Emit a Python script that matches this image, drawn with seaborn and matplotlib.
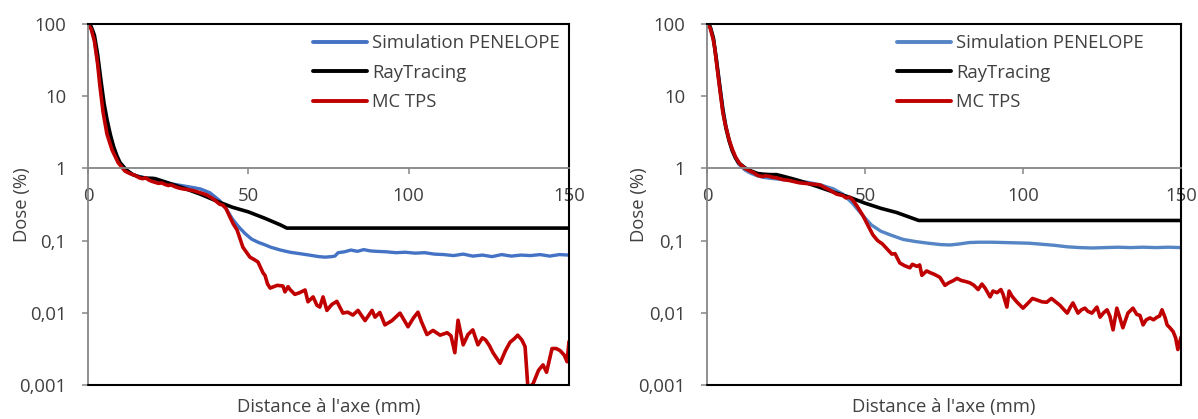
import numpy as np
import pandas as pd
import matplotlib
matplotlib.use("Agg")
import matplotlib.pyplot as plt
import seaborn as sns

# ---------------- data ----------------
series_names = ["Simulation PENELOPE", "RayTracing", "MC TPS"]
tick_x = [0, 50, 100, 150]
tick_y = [0.001, 0.01, 0.1, 1, 10, 100]
tick_y_labels = ["0,001", "0,01", "0,1", "1", "10", "100"]

# Left panel
L_pen_x = [0, 1, 2, 3, 4, 5, 6, 7, 8, 9, 10, 12, 14, 16, 18, 20, 23, 26, 29, 32, 35, 38, 41, 43, 45, 47,
           49, 51, 53, 55, 57, 60, 63, 66, 69, 72, 74, 76, 77, 78, 80, 82, 84, 86, 88, 90, 93, 96, 99, 102,
           105, 108, 111, 114, 117, 120, 123, 126, 129, 132, 135, 138, 141, 144, 147, 150]
L_pen_y = [100, 88, 60, 30, 14, 7, 4.2, 2.7, 1.9, 1.45, 1.15, 0.93, 0.82, 0.77, 0.74, 0.71, 0.66, 0.61, 0.58,
           0.55, 0.52, 0.46, 0.36, 0.28, 0.20, 0.155, 0.125, 0.105, 0.095, 0.088, 0.081, 0.074, 0.069, 0.066,
           0.063, 0.060, 0.059, 0.060, 0.061, 0.068, 0.070, 0.074, 0.071, 0.075, 0.072, 0.071, 0.070, 0.068,
           0.069, 0.067, 0.068, 0.065, 0.064, 0.062, 0.065, 0.061, 0.063, 0.060, 0.064, 0.061, 0.063, 0.062,
           0.064, 0.061, 0.064, 0.063]
L_ray_x = [0, 1, 2, 3, 4, 5, 6, 7, 8, 9, 10, 12, 14, 16, 18, 20, 21, 25, 30, 35, 41, 45, 50, 55, 60, 62, 150]
L_ray_y = [100, 92, 70, 38, 17, 8, 4.6, 2.9, 2.0, 1.5, 1.2, 0.95, 0.82, 0.76, 0.73, 0.73, 0.72, 0.63, 0.53,
           0.44, 0.34, 0.29, 0.25, 0.205, 0.165, 0.149, 0.149]
L_mc_x = [0, 1, 2, 3, 3.7, 4.7, 5.9, 7.5, 9.4, 11.5, 13, 14.7, 16, 17, 18, 19, 20, 21, 22, 23, 24, 25, 26,
          27, 28, 29.6, 31, 33, 35, 37, 39, 41, 42, 43, 44.3, 45.3, 46.5, 48.3, 50.5, 52, 53, 54.6, 55.2, 56,
          56.8, 59, 60.8, 61.4, 62.4, 63, 64.5, 66, 67.7, 68.6, 70.2, 71.4, 72.3, 73.3, 74.5, 76, 77.6,
          79.5, 81, 82.6, 84.2, 86.4, 88.6, 89.5, 91, 92.6, 94.8, 97.3, 99.8, 101.5, 102.9, 104, 105.7,
          107.6, 109.8, 112, 113.2, 114.4, 115.4, 117, 118.5, 120, 121.6, 123, 124, 125.2, 126.3, 128.5,
          130.2, 131.6, 133, 134, 135.3, 136.3, 137.2, 138.8, 140.5, 141.9, 143, 144.7, 146, 147.2, 148.5,
          149.4, 150]
L_mc_y = [100, 85, 58, 28, 14, 6, 3.0, 1.8, 1.2, 0.92, 0.85, 0.80, 0.74, 0.72, 0.74, 0.69, 0.66, 0.64, 0.62,
          0.63, 0.60, 0.58, 0.59, 0.56, 0.54, 0.52, 0.51, 0.49, 0.46, 0.43, 0.38, 0.32, 0.31, 0.28, 0.21,
          0.17, 0.14, 0.081, 0.059, 0.054, 0.0506, 0.0356, 0.033, 0.025, 0.022, 0.024, 0.0235, 0.0195,
          0.023, 0.021, 0.018, 0.019, 0.0207, 0.0142, 0.0166, 0.0127, 0.012, 0.0166, 0.0108, 0.013, 0.0144,
          0.0099, 0.0102, 0.0093, 0.0108, 0.0078, 0.0108, 0.0087, 0.0101, 0.0068, 0.0078, 0.0099, 0.0064,
          0.0085, 0.0102, 0.0075, 0.0050, 0.0057, 0.0049, 0.0053, 0.0048, 0.0028, 0.0079, 0.0036, 0.0050,
          0.0058, 0.0036, 0.0045, 0.0042, 0.0035, 0.0028, 0.0020, 0.0030, 0.0039, 0.0044, 0.0049, 0.0042,
          0.0034, 0.0009, 0.00104, 0.0016, 0.0019, 0.0015, 0.0032, 0.0032, 0.0030, 0.0026, 0.0021, 0.0040]

# Right panel
R_pen_x = [0, 1, 2, 3, 4, 5, 6, 7, 8, 9, 10, 12, 14, 16, 18, 20, 24, 28, 32, 36, 40, 43, 46, 49, 52, 55, 58,
           62, 66, 70, 74, 77, 80, 83, 86, 90, 94, 98, 102, 106, 110, 114, 118, 122, 126, 130, 134, 138, 142,
           146, 150]
R_pen_y = [100, 92, 66, 33, 15, 7, 3.9, 2.5, 1.8, 1.4, 1.15, 0.95, 0.85, 0.79, 0.75, 0.73, 0.70, 0.67, 0.64,
           0.59, 0.52, 0.44, 0.33, 0.23, 0.165, 0.135, 0.12, 0.104, 0.097, 0.092, 0.088, 0.087, 0.090,
           0.094, 0.095, 0.095, 0.094, 0.093, 0.092, 0.089, 0.086, 0.082, 0.080, 0.079, 0.080, 0.081,
           0.080, 0.081, 0.080, 0.081, 0.080]
R_ray_x = [0, 1, 2, 3, 4, 5, 6, 7, 8, 9, 10, 12, 14, 16, 18, 20, 22, 24, 27, 30, 35, 40, 45, 50, 55, 60, 67, 150]
R_ray_y = [100, 92, 64, 31, 14, 6.5, 3.6, 2.4, 1.75, 1.4, 1.2, 1.02, 0.92, 0.85, 0.83, 0.82, 0.82, 0.78, 0.72,
           0.66, 0.56, 0.47, 0.40, 0.33, 0.28, 0.245, 0.19, 0.19]
R_mc_x = [0, 1, 2, 2.5, 3, 4, 5, 5.7, 7, 7.9, 9, 10.4, 12, 13.6, 15, 16, 17.4, 18.5, 19.5, 21, 22, 24, 26,
          28, 29.4, 31, 33, 35.8, 37, 38.9, 41, 43, 44, 45, 46, 47.5, 49.4, 51, 52.5, 54, 55.5, 57.3, 58.5,
          59.5, 61, 62.5, 64.2, 65, 66.4, 67.3, 68, 69.5, 70.6, 72, 73.7, 75.3, 76.5, 78, 79.1, 80.5, 82,
          83.2, 84.5, 85.8, 87, 88, 89.6, 90.5, 91.8, 93, 93.7, 94.9, 95.6, 96.5, 98, 100, 101.5, 103,
          104.5, 106, 107.5, 109, 110.5, 111.7, 113, 114, 115, 115.8, 117.4, 118.5, 119.6, 120.5, 121.8,
          123.4, 124.4, 125.5, 126.6, 127.5, 128.5, 129.7, 130.5, 131.6, 133.2, 134.8, 136, 137, 138, 139,
          140.2, 141.3, 142.4, 143.2, 144, 145, 145.6, 146.5, 147.5, 148.3, 149, 150]
R_mc_y = [100, 88, 60, 45, 29, 13, 6.0, 4.2, 2.5, 1.9, 1.45, 1.15, 1.0, 0.92, 0.86, 0.80, 0.77, 0.79, 0.78,
          0.75, 0.74, 0.70, 0.68, 0.65, 0.63, 0.62, 0.61, 0.59, 0.55, 0.50, 0.44, 0.42, 0.39, 0.40, 0.37,
          0.30, 0.22, 0.16, 0.12, 0.10, 0.09, 0.074, 0.065, 0.066, 0.049, 0.045, 0.042, 0.047, 0.044, 0.046,
          0.033, 0.038, 0.036, 0.034, 0.031, 0.024, 0.026, 0.028, 0.030, 0.028, 0.027, 0.026, 0.024, 0.021,
          0.025, 0.022, 0.0166, 0.020, 0.019, 0.021, 0.018, 0.012, 0.020, 0.017, 0.0142, 0.0116, 0.0135,
          0.0158, 0.015, 0.0142, 0.014, 0.0158, 0.014, 0.0127, 0.011, 0.0099, 0.012, 0.0137, 0.0099, 0.011,
          0.0116, 0.0105, 0.0099, 0.012, 0.0087, 0.010, 0.011, 0.009, 0.0058, 0.0116, 0.009, 0.0062, 0.0099,
          0.0116, 0.0095, 0.0092, 0.0068, 0.0080, 0.0085, 0.0080, 0.0087, 0.0090, 0.011, 0.0085, 0.0068,
          0.0062, 0.0055, 0.0045, 0.0031, 0.0046]

# ---------------- styling ----------------
sns.set_style("white")
plt.rcParams["font.family"] = ["Open Sans", "DejaVu Sans"]
TXT = "#404040"
AX_GRAY = "#868686"
FS = 13.3

fig = plt.figure(figsize=(11.98, 4.19), dpi=100)
axL = fig.add_axes([88 / 1198, 1 - 385 / 419, (569 - 88) / 1198, (385 - 24) / 419])
axR = fig.add_axes([707 / 1198, 1 - 385 / 419, (1181 - 707) / 1198, (385 - 24) / 419])

panels = [
    (axL, [(L_pen_x, L_pen_y), (L_ray_x, L_ray_y), (L_mc_x, L_mc_y)], "#4472C4", 0.468, -0.118),
    (axR, [(R_pen_x, R_pen_y), (R_ray_x, R_ray_y), (R_mc_x, R_mc_y)], "#5585C5", 0.401, -0.125),
]

for ax, series, blue, legx, ylx in panels:
    colors = [blue, "#000000", "#C00000"]
    widths = [2.4, 2.6, 2.6]
    for (xs, ys), name, c, lw in zip(series, series_names, colors, widths):
        df = pd.DataFrame({"x": xs, "y": ys})
        sns.lineplot(data=df, x="x", y="y", ax=ax, color=c, lw=lw, label=name,
                     sort=False, estimator=None)
    ax.set_yscale("log")
    ax.set_ylim(0.001, 100)
    ax.set_xlim(0, 150)
    ax.set_xticks(tick_x)
    ax.set_xticklabels([str(t) for t in tick_x])
    ax.set_yticks(tick_y)
    ax.set_yticklabels(tick_y_labels)
    ax.yaxis.set_minor_locator(matplotlib.ticker.NullLocator())

    # axes lines
    ax.spines["bottom"].set_position(("data", 1))
    ax.spines["bottom"].set_color(AX_GRAY)
    ax.spines["bottom"].set_linewidth(1.3)
    ax.spines["left"].set_color(AX_GRAY)
    ax.spines["left"].set_linewidth(1.3)
    for s in ["top", "right"]:
        ax.spines[s].set_visible(True)
        ax.spines[s].set_color("black")
        ax.spines[s].set_linewidth(1.5)
    ax.axhline(0.001, color="black", lw=1.5, clip_on=False, zorder=5)

    ax.tick_params(axis="both", which="major", direction="out", length=4.5, width=1.1,
                   color=AX_GRAY, labelcolor=TXT, labelsize=FS, pad=11)
    ax.tick_params(axis="x", bottom=True, top=False, pad=9)
    ax.tick_params(axis="y", left=True, right=False)

    ax.set_xlabel("Distance à l'axe (mm)", fontsize=FS, color=TXT)
    ax.set_ylabel("Dose (%)", fontsize=FS, color=TXT)
    ax.xaxis.set_label_coords(0.5, -0.035)
    ax.yaxis.set_label_coords(ylx, 0.5)

    leg = ax.legend(loc="upper left", bbox_to_anchor=(legx, 0.972), frameon=False,
                    fontsize=FS, handlelength=2.9, handletextpad=0.3, labelspacing=0.63,
                    borderpad=0, borderaxespad=0)
    for t in leg.get_texts():
        t.set_color(TXT)
    for h in leg.get_lines():
        h.set_linewidth(2.8)

fig.savefig("out.png", dpi=100)
